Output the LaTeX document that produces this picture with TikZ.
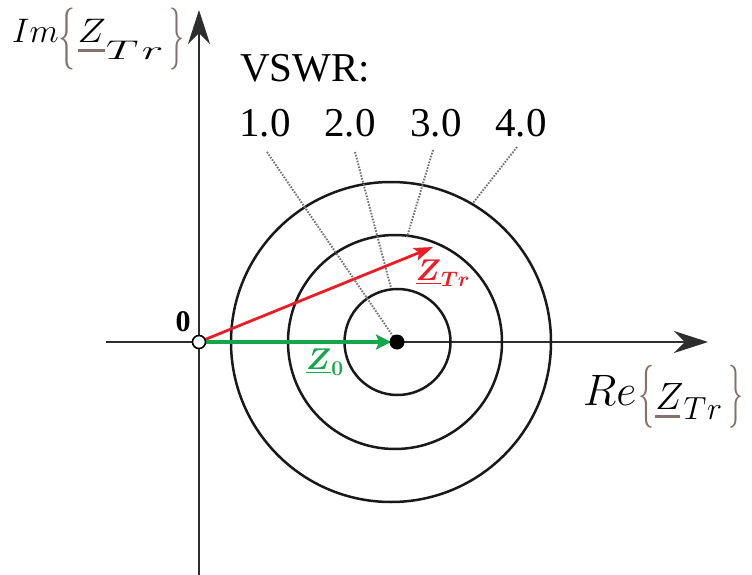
\RequirePackage{fix-cm}
\documentclass[tikz,border=0pt]{standalone}
\usepackage{fontspec}
\setmainfont{Liberation Serif}
\usepackage{amsmath}
\usepackage{bm}
\usepackage{graphicx}
\usetikzlibrary{arrows.meta}
\definecolor{zred}{HTML}{EE1C24}
\definecolor{zgreen}{HTML}{14A64A}
\definecolor{bracecol}{HTML}{85706C}
\definecolor{axisgray}{HTML}{2E2E2E}
% tall thin braces: width, total height, vertical shift
\newcommand{\bracel}[3]{\raisebox{#3}{\color{bracecol}\resizebox*{#1}{#2}{$\{$}}}
\newcommand{\bracer}[3]{\raisebox{#3}{\color{bracecol}\resizebox*{#1}{#2}{$\}$}}}
% underlined Z: rule depth, rule width
\newcommand{\ulZ}[2]{{\color{bracecol}\rlap{\rule[#1]{#2}{2.6pt}}}$Z$}
\begin{document}
\begin{tikzpicture}[x=1pt,y=-1pt,
  axisline/.style={draw=axisgray, line width=2.4pt, -{Stealth[length=34pt,width=22pt,inset=11pt]}},
  ring/.style={draw=black!90, line width=2.5pt},
  leader/.style={draw=black!55, line width=1.9pt, dash pattern=on 1.6pt off 1.4pt},
  numlbl/.style={font=\fontsize{41}{41}\selectfont, inner sep=0pt, anchor=base},
  axlbl/.style={inner sep=0pt, anchor=base west},
  veclbl/.style={font=\fontsize{30}{30}\selectfont, inner sep=0pt},
  redvec/.style={draw=zred, line width=2.8pt, -{Stealth[length=19pt,width=13pt,inset=4pt]}},
  greenvec/.style={draw=zgreen, line width=4.4pt, -{Stealth[length=15pt,width=15pt,inset=3pt]}}
]
\useasboundingbox (0,0) rectangle (752,575);
\fill[white] (0,0) rectangle (752,575);

% key points
\coordinate (O) at (199,342);
\coordinate (C) at (397,342);
\coordinate (xl) at (106,342);
\coordinate (xr) at (708,342);
\coordinate (yb) at (199,575);
\coordinate (yt) at (199,10);
\coordinate (Ztip) at (433,247);

% axes
\draw[axisline] (xl) -- (xr);
\draw[axisline] (yb) -- (yt);

% VSWR circles
\draw[ring] (397.5,342) circle[radius=53pt];
\draw[ring] (395,342) circle[radius=107pt];
\draw[ring] (391,342) circle[radius=160pt];

% labels
\node[numlbl, anchor=base west] (vswr) at (240,82) {VSWR:};
\node[numlbl] (v1) at (265,137) {1.0};
\node[numlbl] (v2) at (350,137) {2.0};
\node[numlbl] (v3) at (436,137) {3.0};
\node[numlbl] (v4) at (521,137) {4.0};

% leader line endpoints
\coordinate (s1) at (267,152);
\coordinate (s2) at (355,152);
\coordinate (s3) at (433,150);
\coordinate (s4) at (517,147);
\coordinate (e2) at (391,288);
\coordinate (e3) at (407,237);
\coordinate (e4) at (473,203);
\draw[leader] (s1) -- (C);
\draw[leader] (s2) -- (e2);
\draw[leader] (s3) -- (e3);
\draw[leader] (s4) -- (e4);

% vectors
\draw[redvec] (O) -- (Ztip);
\draw[greenvec, shorten >=6pt] (O) -- (C);

% points
\node[circle, fill=black, minimum size=15pt, inner sep=0pt] (cdot) at (C) {};
\node[circle, draw=black, fill=white, line width=1.6pt, minimum size=13pt, inner sep=0pt] (odot) at (O) {};

% vector labels
\node[font=\fontsize{30}{30}\selectfont\bfseries, inner sep=0pt] (zero) at (183,322) {0};
\node[veclbl, text=zgreen] (z0) at (325,362) {$\bm{\underline{Z}_0}$};
\node[veclbl, text=zred] (ztr) at (443,273) {$\bm{\underline{Z}_{Tr}}$};

% axis labels
\node[axlbl, font=\fontsize{34}{34}\selectfont] (imlbl) at (12,43) {$Im$\hspace{0pt}\bracel{17pt}{62pt}{-11.5pt}\hspace{2pt}\scalebox{1.12}[1]{\ulZ{-9pt}{24pt}}\scalebox{1.7}[1]{\raisebox{-17pt}{\fontsize{27}{27}\selectfont$T$\hspace{2pt}$r$}}\hspace{6pt}\bracer{15pt}{62pt}{-11.5pt}};
\node[axlbl, font=\fontsize{44}{44}\selectfont] (relbl) at (583,405) {$Re$\hspace{2pt}\bracel{16pt}{63pt}{-7pt}\hspace{1pt}\raisebox{-4pt}{\fontsize{38}{38}\selectfont\ulZ{-9pt}{25pt}}\raisebox{-14pt}{\fontsize{32}{32}\selectfont$T$\hspace{1pt}$r$}\hspace{6pt}\bracer{15pt}{63pt}{-7pt}};
\end{tikzpicture}
\end{document}
